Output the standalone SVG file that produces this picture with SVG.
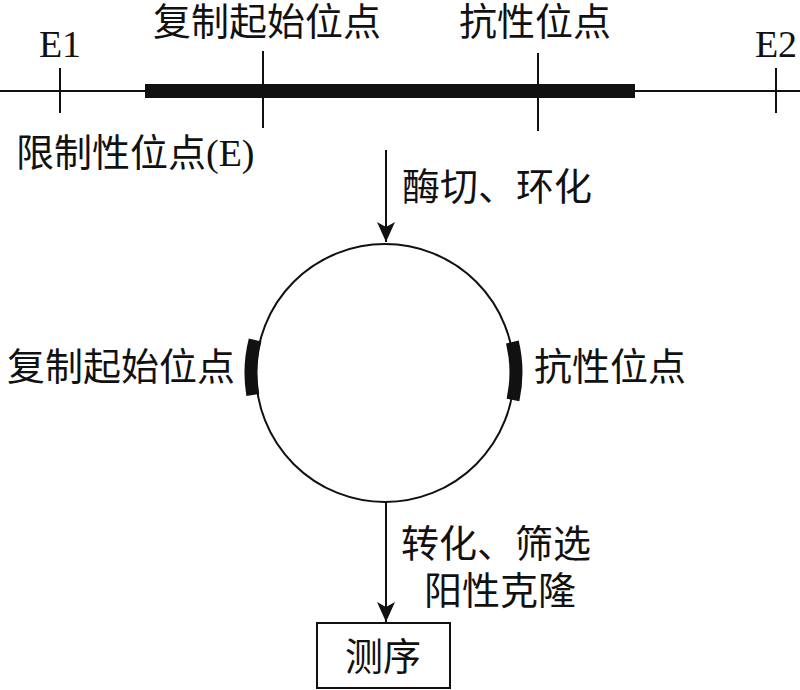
<svg xmlns="http://www.w3.org/2000/svg" width="800" height="690" viewBox="0 0 800 690">
<defs>
<style>
.t{font-family:"Liberation Serif","Noto Sans CJK SC",serif;font-size:38px;fill:#111}
.ln{stroke:#111;stroke-width:2;fill:none}
.mk{stroke:#111;stroke-width:13;fill:none;stroke-linecap:butt}
</style>
<marker id="ah" viewBox="0 0 20 20" refX="20" refY="10" markerWidth="20" markerHeight="20" markerUnits="userSpaceOnUse" orient="auto">
<path d="M0,1 L20,10 L0,19 L5,10 Z" fill="#111"/>
</marker>
</defs>
<g id="dna">
<line class="ln" x1="0" y1="91" x2="800" y2="91"/>
<rect x="145" y="84" width="490" height="14" fill="#111"/>
<line class="ln" x1="60" y1="68" x2="60" y2="113"/>
<line class="ln" x1="263" y1="51" x2="263" y2="128"/>
<line class="ln" x1="538" y1="53" x2="538" y2="131"/>
<line class="ln" x1="776" y1="68" x2="776" y2="113"/>
<text class="t" x="60" y="57" text-anchor="middle">E1</text>
<text class="t" x="776" y="57" text-anchor="middle">E2</text>
<text class="t" x="153" y="35">复制起始位点</text>
<text class="t" x="459" y="35">抗性位点</text>
<text class="t" x="16" y="166">限制性位点(E)</text>
</g>
<g id="plasmid">
<circle class="ln" cx="385" cy="373" r="129"/>
<path class="mk" d="M255.1,340 A134,134 0 0 0 252.8,395"/>
<path class="mk" d="M512.4,342 A131,131 0 0 1 513,400"/>
<text class="t" x="7" y="380">复制起始位点</text>
<text class="t" x="534" y="380">抗性位点</text>
</g>
<g id="seq">
<rect x="317" y="623" width="133" height="65" fill="#fff" stroke="#111" stroke-width="2"/>
<text class="t" x="383" y="670" text-anchor="middle">测序</text>
</g>
<g id="connectors">
<line class="ln" x1="386" y1="150" x2="386" y2="242" marker-end="url(#ah)"/>
<line class="ln" x1="386" y1="502" x2="386" y2="622" marker-end="url(#ah)"/>
<text class="t" x="402" y="200">酶切、环化</text>
<text class="t" x="401" y="557">转化、筛选</text>
<text class="t" x="424" y="604">阳性克隆</text>
</g>
</svg>
